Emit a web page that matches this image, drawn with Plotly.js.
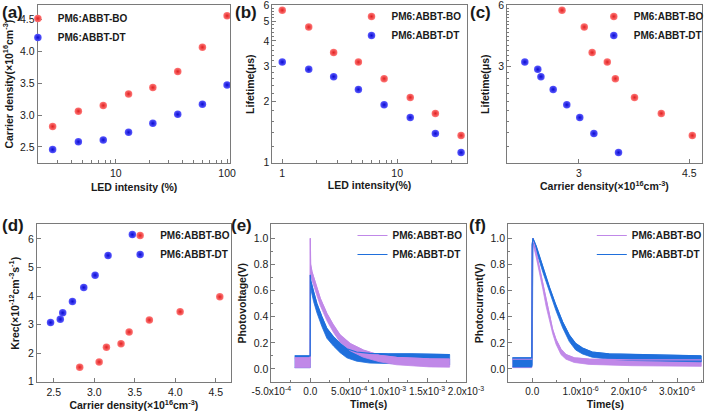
<!DOCTYPE html>
<html>
<head>
<meta charset="utf-8">
<script src="https://cdn.plot.ly/plotly-3.0.1.min.js"></script>
<style>
  html, body { margin: 0; padding: 0; background: #ffffff; }
  #chart { width: 709px; height: 415px; }
</style>
</head>
<body>
<div id="chart"></div>
<script>
// ---------------- DATA ----------------
const seriesNames = ['PM6:ABBT-BO', 'PM6:ABBT-DT'];

// (a) carrier density vs LED intensity
const ledA = [2.7, 4.6, 7.7, 13, 21.5, 36, 60, 100];
const densBO = [2.82, 3.06, 3.15, 3.33, 3.43, 3.68, 4.06, 4.55];
const densDT = [2.46, 2.58, 2.61, 2.73, 2.87, 3.01, 3.17, 3.47];

// (b) lifetime vs LED intensity ; (c) lifetime vs carrier density
const ledB = [1, 1.7, 2.8, 4.6, 7.7, 13, 21.5, 36];
const lifeBO = [5.67, 4.68, 3.50, 3.14, 2.60, 2.10, 1.75, 1.36];
const lifeDT = [3.14, 2.89, 2.66, 2.30, 1.93, 1.67, 1.39, 1.12];

// (d) Krec vs carrier density
const krecBO = [1.51, 1.69, 2.21, 2.33, 2.74, 3.16, 3.45, 3.97];
const krecDT = [3.07, 3.19, 3.41, 3.81, 4.30, 4.73, 5.42, 6.15];

// (e) transient photovoltage (noise envelope: low / high)
const eTimeBO = [-2.0e-4, -1e-6, 0, 4e-6, 2.1e-5, 6.4e-5, 1.28e-4, 2.13e-4, 2.98e-4, 3.83e-4, 5.1e-4, 6.8e-4, 8.9e-4, 1.11e-3, 1.3e-3, 1.53e-3, 1.79e-3];
const eHighBO = [0.085, 0.085, 1.0, 0.80, 0.745, 0.655, 0.54, 0.425, 0.335, 0.26, 0.195, 0.145, 0.105, 0.088, 0.082, 0.078, 0.076];
const eLowBO  = [0.01, 0.01, 0.02, 0.71, 0.69, 0.60, 0.485, 0.37, 0.28, 0.205, 0.14, 0.09, 0.055, 0.032, 0.022, 0.016, 0.014];
const eTimeDT = [-2.0e-4, -1e-6, 0, 4e-6, 4.3e-5, 8.5e-5, 1.49e-4, 2.13e-4, 2.98e-4, 3.83e-4, 4.7e-4, 5.95e-4, 7.65e-4, 1.0e-3, 1.3e-3, 1.53e-3, 1.79e-3];
const eHighDT = [0.1, 0.1, 0.72, 0.68, 0.59, 0.50, 0.40, 0.31, 0.245, 0.195, 0.155, 0.13, 0.12, 0.115, 0.115, 0.115, 0.11];
const eLowDT  = [0.01, 0.01, 0.03, 0.62, 0.515, 0.43, 0.325, 0.235, 0.175, 0.125, 0.085, 0.06, 0.045, 0.04, 0.035, 0.035, 0.03];

// (f) transient photocurrent (noise envelope: low / high)
const fTimeBO = [-4.1e-7, -1e-8, 0, 1.4e-8, 8.2e-8, 1.5e-7, 2.2e-7, 2.87e-7, 3.56e-7, 4.24e-7, 4.93e-7, 5.95e-7, 6.98e-7, 8.69e-7, 1.18e-6, 2.07e-6, 3.5e-6];
const fHighBO = [0.075, 0.075, 0.95, 1.0, 0.89, 0.775, 0.65, 0.52, 0.405, 0.30, 0.225, 0.15, 0.11, 0.085, 0.075, 0.07, 0.07];
const fLowBO  = [0.01, 0.01, 0.02, 0.96, 0.855, 0.74, 0.61, 0.48, 0.37, 0.27, 0.19, 0.11, 0.075, 0.05, 0.035, 0.025, 0.02];
const fTimeDT = [-4.1e-7, -1e-8, 0, 1.4e-8, 8.2e-8, 2.2e-7, 3.56e-7, 4.93e-7, 6.3e-7, 7.67e-7, 9.0e-7, 1.04e-6, 1.24e-6, 1.59e-6, 2.07e-6, 2.75e-6, 3.5e-6];
const fHighDT = [0.085, 0.085, 0.95, 1.0, 0.94, 0.775, 0.625, 0.485, 0.36, 0.26, 0.195, 0.16, 0.13, 0.115, 0.11, 0.105, 0.1];
const fLowDT  = [0.015, 0.015, 0.03, 0.975, 0.905, 0.74, 0.585, 0.445, 0.315, 0.21, 0.145, 0.115, 0.09, 0.075, 0.065, 0.06, 0.055];

// tick labels
const aXTicks = [10, 100];
const aXMinor = [2, 3, 4, 5, 6, 7, 8, 9, 20, 30, 40, 50, 60, 70, 80, 90];
const aYTicks = [2.5, 3.0, 3.5, 4.0, 4.5];
const aYText = ['2.5', '3.0', '3.5', '4.0', '4.5'];
const bXTicks = [1, 10];
const bXMinor = [2, 3, 4, 5, 6, 7, 8, 9, 20, 30];
const bYTicks = [1, 2, 3, 4, 5, 6];
const logYMinor = [1.2, 1.4, 1.6, 1.8, 2.2, 2.4, 2.6, 2.8, 3.2, 3.4, 3.6, 3.8, 4.2, 4.4, 4.6, 4.8, 5.2, 5.4, 5.6, 5.8];
const cXTicks = [3, 4.5];
const cXText = ['3', '4.5'];
const cYTicks = [3, 6];
const cYMinor = [1.2, 1.4, 1.6, 1.8, 2, 2.2, 2.4, 2.6, 2.8, 3.2, 3.4, 3.6, 3.8, 4, 4.2, 4.4, 4.6, 4.8, 5, 5.2, 5.4, 5.6, 5.8];
const dXTicks = [2.5, 3.0, 3.5, 4.0, 4.5];
const dXText = ['2.5', '3.0', '3.5', '4.0', '4.5'];
const dYTicks = [1, 2, 3, 4, 5, 6];
const tYTicks = [0, 0.2, 0.4, 0.6, 0.8, 1.0];
const tYText = ['0.0', '0.2', '0.4', '0.6', '0.8', '1.0'];
const eXTicks = [-5e-4, 0, 5e-4, 1e-3, 1.5e-3, 2e-3];
const eXText = ['-5.0x10<sup>-4</sup>', '0.0', '5.0x10<sup>-4</sup>', '1.0x10<sup>-3</sup>', '1.5x10<sup>-3</sup>', '2.0x10<sup>-3</sup>'];
const fXTicks = [0, 1e-6, 2e-6, 3e-6];
const fXText = ['0.0', '1.0x10<sup>-6</sup>', '2.0x10<sup>-6</sup>', '3.0x10<sup>-6</sup>'];

// ---------------- STYLE ----------------
const FONT = 'Liberation Sans, Arial, sans-serif';
const TXT = '#1a1a1a';
const AXC = '#7a7a7a';
const RED = '#ff7878', RED_EDGE = '#e02020';
const BLUE = '#5a5aff', BLUE_EDGE = '#0a0ad0';
const PURPLE = '#c088e8';
const LBLUE = '#1f6fdc';
const W = 709, H = 415;

function px(x0, x1) { return [x0 / W, x1 / W]; }
function py(top, bottom) { return [1 - bottom / H, 1 - top / H]; }

function axis(o) {
  const base = {
    showline: true, mirror: true, linecolor: AXC, linewidth: 1,
    ticks: 'inside', ticklen: 4, tickcolor: AXC, tickwidth: 1, tickangle: 0,
    showgrid: false, zeroline: false, automargin: false,
    tickfont: { family: FONT, size: 10.5, color: TXT },
    title: { font: { family: FONT, size: 10.5, color: TXT, weight: 700 } }
  };
  const r = Object.assign(base, o);
  if (o.titleText !== undefined) {
    r.title = { text: o.titleText, standoff: o.standoff || 4, font: base.title.font };
    delete r.titleText; delete r.standoff;
  }
  return r;
}
function minor(vals, len) {
  return { tickmode: 'array', tickvals: vals, ticks: 'inside', ticklen: len || 2, tickcolor: AXC, showgrid: false };
}

function scatterPts(x, y, ax, ay, leg, name, c, edge) {
  return {
    type: 'scatter', mode: 'markers', x: x, y: y, xaxis: ax, yaxis: ay, legend: leg, name: name,
    marker: { size: 7.5, color: c, gradient: { type: 'radial', color: edge }, line: { width: 0 } }
  };
}
function band(t, lo, hi, ax, ay, color) {
  return {
    type: 'scatter', mode: 'lines', x: t.concat(t.slice().reverse()), y: hi.concat(lo.slice().reverse()),
    xaxis: ax, yaxis: ay, fill: 'toself', fillcolor: color, line: { color: color, width: 0.8 },
    showlegend: false, hoverinfo: 'skip'
  };
}
function edgeLine(t, hi, ax, ay, leg, name, color) {
  return {
    type: 'scatter', mode: 'lines', x: t, y: hi, xaxis: ax, yaxis: ay, legend: leg, name: name,
    line: { color: color, width: 1.2 }
  };
}

const traces = [
  // (a)
  scatterPts(ledA, densBO, 'x', 'y', 'legend', seriesNames[0], RED, RED_EDGE),
  scatterPts(ledA, densDT, 'x', 'y', 'legend', seriesNames[1], BLUE, BLUE_EDGE),
  // (b)
  scatterPts(ledB, lifeBO, 'x2', 'y2', 'legend2', seriesNames[0], RED, RED_EDGE),
  scatterPts(ledB, lifeDT, 'x2', 'y2', 'legend2', seriesNames[1], BLUE, BLUE_EDGE),
  // (c)
  scatterPts(densBO, lifeBO, 'x3', 'y3', 'legend3', seriesNames[0], RED, RED_EDGE),
  scatterPts(densDT, lifeDT, 'x3', 'y3', 'legend3', seriesNames[1], BLUE, BLUE_EDGE),
  // (d)
  scatterPts(densBO, krecBO, 'x4', 'y4', 'legend4', seriesNames[0], RED, RED_EDGE),
  scatterPts(densDT, krecDT, 'x4', 'y4', 'legend4', seriesNames[1], BLUE, BLUE_EDGE),
  // (e)
  band(eTimeDT, eLowDT, eHighDT, 'x5', 'y5', LBLUE),
  band(eTimeBO, eLowBO, eHighBO, 'x5', 'y5', PURPLE),
  edgeLine(eTimeBO, eHighBO, 'x5', 'y5', 'legend5', seriesNames[0], PURPLE),
  edgeLine(eTimeDT, eHighDT, 'x5', 'y5', 'legend5', seriesNames[1], LBLUE),
  // (f)
  band(fTimeBO, fLowBO, fHighBO, 'x6', 'y6', PURPLE),
  band(fTimeDT, fLowDT, fHighDT, 'x6', 'y6', LBLUE),
  edgeLine(fTimeBO, fHighBO, 'x6', 'y6', 'legend6', seriesNames[0], PURPLE),
  edgeLine(fTimeDT, fHighDT, 'x6', 'y6', 'legend6', seriesNames[1], LBLUE)
];

const densTitle = 'Carrier density(×10<sup>16</sup>cm<sup>-3</sup>)';
const topRow = py(5, 163.3);
const botRow = py(224.3, 382.3);

function legendAt(xpx, ypx) {
  return {
    x: xpx / W, y: 1 - ypx / H, xanchor: 'left', yanchor: 'top',
    bgcolor: 'rgba(0,0,0,0)', borderwidth: 0, tracegroupgap: 0, itemwidth: 30,
    font: { family: FONT, size: 10, color: TXT, weight: 700 }
  };
}

function panelLabel(txt, xpx, ypx) {
  return {
    text: txt, xref: 'paper', yref: 'paper', x: xpx / W, y: 1 - ypx / H,
    xanchor: 'left', yanchor: 'top', showarrow: false,
    font: { family: FONT, size: 17, color: TXT, weight: 700 }
  };
}

const layout = {
  width: W, height: H,
  margin: { l: 0, r: 0, t: 0, b: 0 },
  paper_bgcolor: '#ffffff', plot_bgcolor: '#ffffff',
  font: { family: FONT, color: TXT },
  showlegend: true,
  // (a)
  xaxis: axis({ domain: px(38, 232), anchor: 'y', type: 'log', range: [0.2973, 2.0295],
    tickmode: 'array', tickvals: aXTicks, ticktext: ['10', '100'], minor: minor(aXMinor, 3),
    titleText: 'LED intensity (%)', standoff: 5 }),
  yaxis: axis({ domain: topRow, anchor: 'x', range: [2.245, 4.72],
    tickmode: 'array', tickvals: aYTicks, ticktext: aYText, titleText: densTitle, standoff: 4 }),
  // (b)
  xaxis2: axis({ domain: px(274.3, 470), anchor: 'y2', type: 'log', range: [-0.086, 1.605],
    tickmode: 'array', tickvals: bXTicks, ticktext: ['1', '10'], minor: minor(bXMinor, 3),
    titleText: 'LED intensity(%)', standoff: 3 }),
  yaxis2: axis({ domain: topRow, anchor: 'x2', type: 'log', range: [-0.004, 0.7795],
    tickmode: 'array', tickvals: bYTicks, ticktext: ['1', '2', '3', '4', '5', '6'], minor: minor(logYMinor, 2),
    titleText: 'Lifetime(μs)', standoff: 6 }),
  // (c)
  xaxis3: axis({ domain: px(510.7, 706.7), anchor: 'y3', type: 'log', range: [0.3627, 0.673],
    tickmode: 'array', tickvals: cXTicks, ticktext: cXText,
    titleText: densTitle, standoff: 3 }),
  yaxis3: axis({ domain: topRow, anchor: 'x3', type: 'log', range: [-0.004, 0.7795],
    tickmode: 'array', tickvals: cYTicks, ticktext: ['3', '6'], minor: minor(cYMinor, 2),
    titleText: 'Lifetime(μs)', standoff: 6 }),
  // (d)
  xaxis4: axis({ domain: px(37.3, 232.3), anchor: 'y4', range: [2.293, 4.684],
    tickmode: 'array', tickvals: dXTicks, ticktext: dXText, titleText: densTitle, standoff: 4 }),
  yaxis4: axis({ domain: botRow, anchor: 'x4', range: [0.98, 6.51],
    tickmode: 'array', tickvals: dYTicks, ticktext: ['1', '2', '3', '4', '5', '6'],
    titleText: 'Krec(×10<sup>-12</sup>cm<sup>-3</sup>s<sup>-1</sup>)', standoff: 6 }),
  // (e)
  xaxis5: axis({ domain: px(273.3, 469.3), anchor: 'y5', range: [-5e-4, 2e-3],
    tickmode: 'array', tickvals: eXTicks, ticktext: eXText, minor: minor([-2.5e-4, 2.5e-4, 7.5e-4, 1.25e-3, 1.75e-3], 2),
    tickfont: { family: FONT, size: 10, color: TXT },
    titleText: 'Time(s)', standoff: 4 }),
  yaxis5: axis({ domain: botRow, anchor: 'x5', range: [-0.102, 1.107],
    tickmode: 'array', tickvals: tYTicks, ticktext: tYText, minor: minor([0.1, 0.3, 0.5, 0.7, 0.9], 2),
    titleText: 'Photovoltage(V)', standoff: 4 }),
  // (f)
  xaxis6: axis({ domain: px(511.7, 707.7), anchor: 'y6', range: [-5e-7, 3.53e-6],
    tickmode: 'array', tickvals: fXTicks, ticktext: fXText, minor: minor([-5e-7, 5e-7, 1.5e-6, 2.5e-6, 3.5e-6], 2),
    tickfont: { family: FONT, size: 10, color: TXT },
    titleText: 'Time(s)', standoff: 4 }),
  yaxis6: axis({ domain: botRow, anchor: 'x6', range: [-0.102, 1.107],
    tickmode: 'array', tickvals: tYTicks, ticktext: tYText, minor: minor([0.1, 0.3, 0.5, 0.7, 0.9], 2),
    titleText: 'Photocurrent(V)', standoff: 4 }),
  legend: legendAt(18, 4),
  legend2: legendAt(354, 2),
  legend3: legendAt(598, 2),
  legend4: legendAt(121, 221),
  legend5: legendAt(355, 221),
  legend6: legendAt(596, 221),
  annotations: [
    panelLabel('(a)', 0, 1),
    panelLabel('(b)', 235, 1),
    panelLabel('(c)', 471, 1),
    panelLabel('(d)', 0, 214),
    panelLabel('(e)', 231, 214),
    panelLabel('(f)', 470, 214)
  ]
};

Plotly.newPlot('chart', traces, layout, { displayModeBar: false, staticPlot: true });
</script>
</body>
</html>
